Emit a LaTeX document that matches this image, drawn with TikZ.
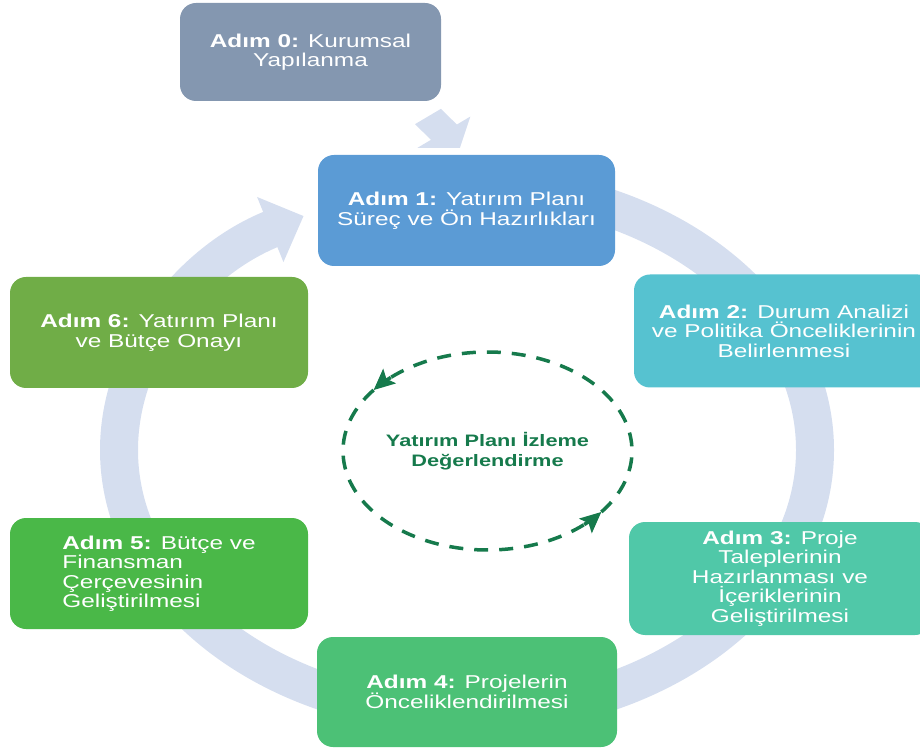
\documentclass[tikz,border=0pt]{standalone}
\usepackage{fontspec}
\setmainfont{Liberation Sans}[FakeStretch=1.31]
\usetikzlibrary{arrows.meta, positioning}

\definecolor{stepzero}{HTML}{8497B0}
\definecolor{stepone}{HTML}{5B9BD5}
\definecolor{steptwo}{HTML}{56C2D0}
\definecolor{stepthree}{HTML}{50C8A8}
\definecolor{stepfour}{HTML}{4CC176}
\definecolor{stepfive}{HTML}{4AB848}
\definecolor{stepsix}{HTML}{70AD47}
\definecolor{ringblue}{HTML}{D5DEEF}
\definecolor{loopgreen}{HTML}{167A4C}

\begin{document}
\begin{tikzpicture}[
    x=1pt, y=1pt,
    stepbox/.style={rounded corners=16pt, inner sep=0pt, align=center, text=white,
        minimum width=298pt, minimum height=111pt,
        font=\fontsize{18.6}{19.5}\selectfont},
    ringline/.style={draw=ringblue, line width=38pt,
        -{Triangle[length=36pt, width=68pt]}},
    loopline/.style={draw=loopgreen, line width=3.5pt, dash pattern=on 14pt off 11pt},
    looptip/.style={draw=loopgreen, line width=3.5pt,
        -{Stealth[length=21pt, width=19pt, inset=4pt]}}
]

\clip (0,0) rectangle (920,750);

% Centres of the two cycles
\coordinate (hub) at (467,300);
\coordinate (evalc) at (487.5,299);

% Big cycle arrow (behind the boxes)
\draw[ringline] (hub) ++(90:348 and 265)
    arc[start angle=90, end angle=-242, x radius=348pt, y radius=265pt];

% Step boxes
\node[stepbox, fill=stepzero, minimum width=261pt, minimum height=98pt] (s0) at (310.5,698)
    {\textbf{Adım 0:} Kurumsal\\Yapılanma};
\node[stepbox, fill=stepone, minimum width=297pt] (s1) at (466.5,539.5)
    {\textbf{Adım 1:} Yatırım Planı\\Süreç ve Ön Hazırlıkları};
\node[stepbox, fill=steptwo, minimum width=300pt, minimum height=113pt] (s2) at (784,419)
    {\textbf{Adım 2:} Durum Analizi\\ve Politika Önceliklerinin\\Belirlenmesi};
\node[stepbox, fill=stepthree, minimum width=302pt, minimum height=113pt] (s3) at (780,171.5)
    {\textbf{Adım 3:} Proje\\Taleplerinin\\Hazırlanması ve\\İçeriklerinin\\Geliştirilmesi};
\node[stepbox, fill=stepfour, minimum width=300pt, minimum height=110pt] (s4) at (467,58)
    {\textbf{Adım 4:} Projelerin\\Önceliklendirilmesi};
\node[stepbox, fill=stepfive, align=left] (s5) at (159,176.5)
    {\textbf{Adım 5:} Bütçe ve\\Finansman\\Çerçevesinin\\Geliştirilmesi};
\node[stepbox, fill=stepsix] (s6) at (159,417.5)
    {\textbf{Adım 6:} Yatırım Planı\\ve Bütçe Onayı};

% Step 0 feeds step 1 (drawn unstretched, then widened like the rest)
\coordinate (s0out) at (326.7,633.5);
\coordinate (s1in) at (351.1,602);
\draw[transform canvas={xscale=1.31}, draw=ringblue, line width=25pt,
    -{Triangle[length=20pt, width=50pt]}] (s0out) -- (s1in);

% Monitoring loop
\draw[loopline] (evalc) ++(-38:144.5 and 99)
    arc[start angle=-38, end angle=132, x radius=144.5pt, y radius=99pt];
\draw[looptip] (evalc) ++(132:144.5 and 99)
    arc[start angle=132, end angle=142, x radius=144.5pt, y radius=99pt];
\draw[loopline] (evalc) ++(142:144.5 and 99)
    arc[start angle=142, end angle=312, x radius=144.5pt, y radius=99pt];
\draw[looptip] (evalc) ++(312:144.5 and 99)
    arc[start angle=312, end angle=322, x radius=144.5pt, y radius=99pt];
\node[align=center, text=loopgreen, font=\bfseries\fontsize{16.6}{19.5}\selectfont] (review) at (evalc)
    {Yatırım Planı İzleme\\Değerlendirme};

\end{tikzpicture}
\end{document}
